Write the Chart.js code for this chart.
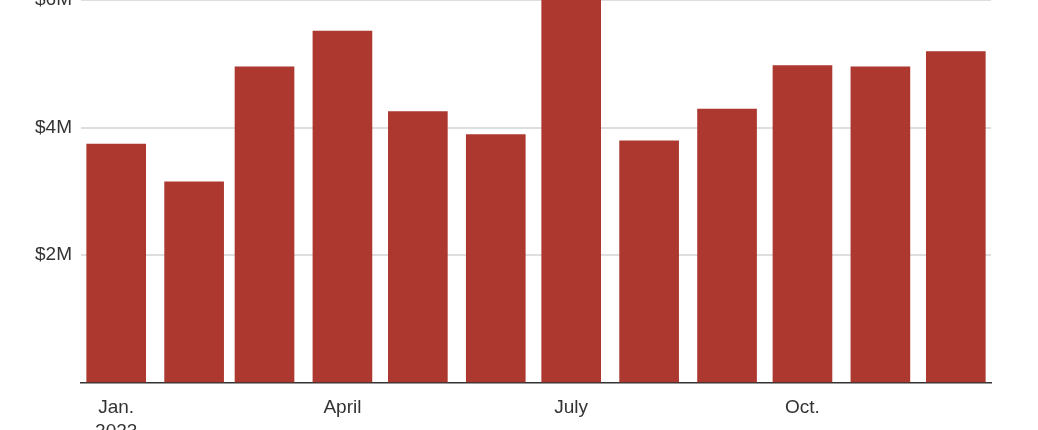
<!DOCTYPE html>
<html>
<head>
<meta charset="utf-8">
<script src="https://cdn.jsdelivr.net/npm/chart.js@4"></script>
<style>
  html, body { margin: 0; padding: 0; background: #fff; overflow: hidden; }
  #wrap { position: absolute; left: 0; top: -150px; width: 1038px; height: 600px; }
</style>
</head>
<body>
<div id="wrap"><canvas id="revenue-chart"></canvas></div>
<script>
// monthly values, millions of dollars (2023)
const months = ["Jan.", "Feb.", "March", "April", "May", "June", "July", "Aug.", "Sept.", "Oct.", "Nov.", "Dec."];
const monthStartDay = [0, 31, 59, 90, 120, 151, 181, 212, 243, 273, 304, 334];
const revenue = [3.74, 3.15, 4.95, 5.51, 4.25, 3.89, 6.4, 3.79, 4.29, 4.97, 4.95, 5.19];

const tickDays = [0, 90, 181, 273];
const tickLabels = [["Jan.", "2023"], "April", "July", "Oct."];
const yTicks = [2, 4, 6];

const barRed = "#ad382f";
const textColor = "#333333";
const gridGray = "#dedede";
const font = { family: "'Liberation Sans', Arial, sans-serif", size: 19, lineHeight: 1.3 };

const ctx = document.getElementById("revenue-chart").getContext("2d");

let chartData = {
  datasets: [
    {
      label: "Revenue",
      data: monthStartDay.map((d, i) => ({ x: d, y: revenue[i] })),
      backgroundColor: barRed,
      borderWidth: 0,
      barThickness: 59,
    },
  ],
};

let chartOptions = {
  responsive: true,
  maintainAspectRatio: false,
  animation: false,
  layout: { padding: { top: 22, right: 47, left: 0, bottom: 0 } },
  plugins: {
    legend: { display: false },
    tooltip: { enabled: false },
  },
  scales: {
    x: {
      type: "linear",
      min: -14,
      max: 348,
      offset: false,
      grid: { display: false, drawTicks: false },
      border: { display: true, color: textColor, width: 1.5 },
      afterBuildTicks: (scale) => {
        scale.ticks = tickDays.map((v) => ({ value: v }));
      },
      afterFit: (scale) => {
        scale.height = 67;
      },
      ticks: {
        color: textColor,
        font: font,
        padding: 12,
        maxRotation: 0,
        autoSkip: false,
        callback: (v) => tickLabels[tickDays.indexOf(v)],
      },
    },
    y: {
      min: 0,
      max: 8,
      grid: {
        color: (c) => (c.tick && c.tick.value === 0 ? "rgba(0,0,0,0)" : gridGray),
        lineWidth: 2,
        drawTicks: false,
      },
      border: { display: false },
      afterBuildTicks: (scale) => {
        scale.ticks = [0].concat(yTicks).map((v) => ({ value: v }));
      },
      afterFit: (scale) => {
        scale.width = 81;
      },
      ticks: {
        color: textColor,
        font: font,
        padding: 9,
        callback: (v) => (v === 0 ? "" : "$" + v + "M"),
      },
    },
  },
};

const revenueChart = new Chart(ctx, {
  type: "bar",
  data: chartData,
  options: chartOptions,
});
</script>
</body>
</html>
